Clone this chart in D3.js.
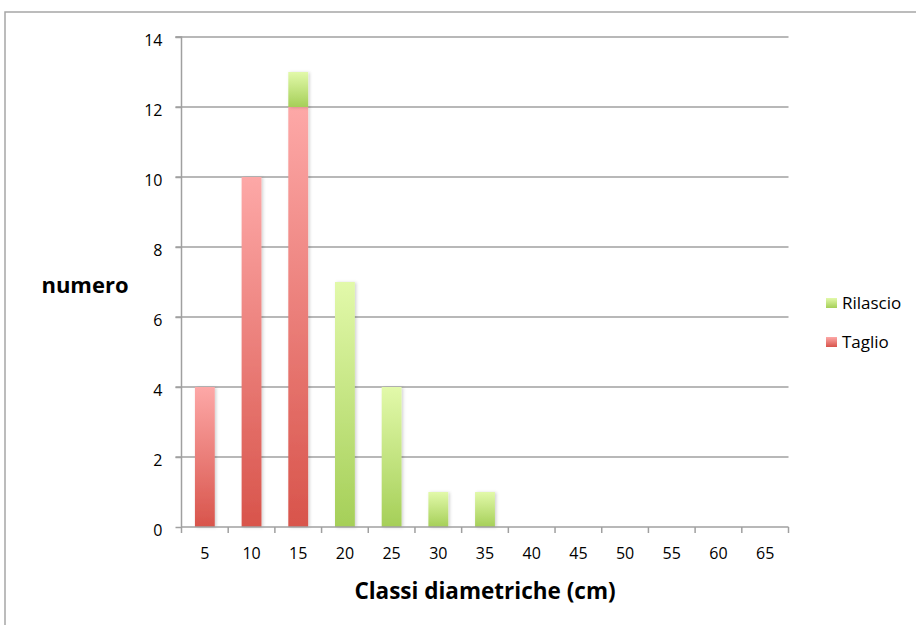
<!DOCTYPE html>
<html>
<head>
<meta charset="utf-8">
<script src="https://cdn.jsdelivr.net/npm/d3@7"></script>
<style>
  html, body { margin: 0; padding: 0; background: #fff; }
  svg { display: block; font-family: "Open Sans", "Noto Sans", sans-serif; }
</style>
</head>
<body>
<svg id="chart" width="916" height="625"></svg>
<script>
const categories = ["5","10","15","20","25","30","35","40","45","50","55","60","65"];
const taglio   = [4, 10, 12, 0, 0, 0, 0, 0, 0, 0, 0, 0, 0];
const rilascio = [0, 0, 1, 7, 4, 1, 1, 0, 0, 0, 0, 0, 0];
const seriesNames = ["Taglio", "Rilascio"];
const yTicks = [0, 2, 4, 6, 8, 10, 12, 14];

const svg = d3.select("#chart");
const W = 916, H = 625;
const margin = {left: 181.5, right: 916 - 788.5, top: 37, bottom: 625 - 527};

const x = d3.scaleBand().domain(categories).range([margin.left, W - margin.right]).paddingInner(0.575).paddingOuter(0.2875);
const xb = d3.scaleBand().domain(categories).range([margin.left, W - margin.right]);
const y = d3.scaleLinear().domain([0, 14]).range([H - margin.bottom, margin.top]);

const defs = svg.append("defs");
const gR = defs.append("linearGradient").attr("id", "gradTaglio").attr("x1", 0).attr("y1", 0).attr("x2", 0).attr("y2", 1);
gR.append("stop").attr("offset", "0%").attr("stop-color", "#fda8a7");
gR.append("stop").attr("offset", "100%").attr("stop-color", "#d8544b");
const gG = defs.append("linearGradient").attr("id", "gradRilascio").attr("x1", 0).attr("y1", 0).attr("x2", 0).attr("y2", 1);
gG.append("stop").attr("offset", "0%").attr("stop-color", "#e2f9aa");
gG.append("stop").attr("offset", "100%").attr("stop-color", "#a5cf58");
const f = defs.append("filter").attr("id", "shadow").attr("x", "-30%").attr("y", "-10%").attr("width", "160%").attr("height", "120%");
f.append("feDropShadow").attr("dx", 1.5).attr("dy", 0.5).attr("stdDeviation", 1.5).attr("flood-color", "#000").attr("flood-opacity", 0.18);

// outer border
svg.append("path").attr("d", `M5,625 L5,12 L916,12`).attr("fill", "none").attr("stroke", "#a6a6a6").attr("stroke-width", 1.5);

// gridlines
svg.append("g").selectAll("line").data(yTicks.filter(d => d > 0)).join("line")
  .attr("x1", margin.left - 6).attr("x2", W - margin.right)
  .attr("y1", d => y(d)).attr("y2", d => y(d))
  .attr("stroke", "#a0a0a0").attr("stroke-width", 1.5);

// bars
const rows = categories.map((c, i) => ({cat: c, Taglio: taglio[i], Rilascio: rilascio[i]}));
const stacked = d3.stack().keys(seriesNames)(rows);
const fills = {Taglio: "url(#gradTaglio)", Rilascio: "url(#gradRilascio)"};
svg.append("g").selectAll("g").data(stacked).join("g")
  .attr("fill", d => fills[d.key])
  .selectAll("rect").data(d => d.filter(p => p[1] - p[0] > 0)).join("rect")
  .attr("x", d => x(d.data.cat))
  .attr("width", x.bandwidth())
  .attr("y", d => y(d[1]))
  .attr("height", d => y(d[0]) - y(d[1]))
  .attr("filter", "url(#shadow)");

// y axis
const yAxis = d3.axisLeft(y).tickValues(yTicks).tickSize(6).tickPadding(13).tickFormat(d3.format("d"));
const gy = svg.append("g").attr("transform", `translate(${margin.left},0)`).call(yAxis);
gy.select(".domain").attr("stroke", "#a0a0a0").attr("stroke-width", 1.5).attr("d", `M-6,${y(14)}H0V${y(0)}`);
gy.selectAll(".tick line").attr("stroke", "#a0a0a0").attr("stroke-width", 1.5);
gy.selectAll(".tick text").attr("font-size", 16).attr("dy", "0.5em").attr("fill", "#000").attr("font-family", "'Open Sans', sans-serif");

// x axis
const gx = svg.append("g").attr("transform", `translate(0,${y(0)})`);
gx.append("line").attr("x1", margin.left).attr("x2", W - margin.right).attr("y1", 0).attr("y2", 0).attr("stroke", "#a0a0a0").attr("stroke-width", 1.5);
const bounds = categories.map(c => xb(c)).concat([xb(categories[categories.length - 1]) + xb.bandwidth()]);
gx.selectAll("line.tk").data(bounds).join("line").attr("class", "tk")
  .attr("x1", d => d).attr("x2", d => d).attr("y1", 0).attr("y2", 6)
  .attr("stroke", "#a0a0a0").attr("stroke-width", 1.5);
gx.selectAll("text").data(categories).join("text")
  .attr("x", d => xb(d) + xb.bandwidth() / 2).attr("y", 32)
  .attr("text-anchor", "middle").attr("font-size", 16).attr("fill", "#000")
  .text(d => d);

// axis titles
svg.append("text").attr("x", 85).attr("y", 293).attr("text-anchor", "middle")
  .attr("font-size", 22).attr("font-weight", "bold").text("numero");
svg.append("text").attr("x", 485).attr("y", 599).attr("text-anchor", "middle")
  .attr("font-size", 22.5).attr("font-weight", "bold").text("Classi diametriche (cm)");

// legend
const legendOrder = ["Rilascio", "Taglio"];
const lg = svg.append("g").selectAll("g").data(legendOrder).join("g")
  .attr("transform", (d, i) => `translate(826,${298 + i * 39})`);
lg.append("rect").attr("width", 11).attr("height", 10).attr("fill", d => fills[d]);
lg.append("text").attr("x", 16).attr("y", 11).attr("font-size", 17).attr("fill", "#000").text(d => d);
</script>
</body>
</html>
